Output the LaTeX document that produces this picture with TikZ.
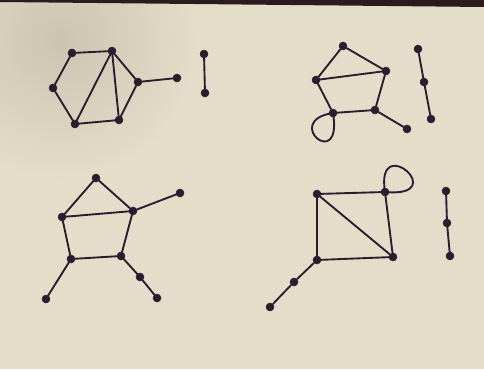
\documentclass[tikz,border=0pt]{standalone}
\usepackage{tikz}
\usetikzlibrary{positioning}
\definecolor{paper}{HTML}{E4DDCA}
\definecolor{paperdark}{HTML}{CBC4B1}
\definecolor{ink}{HTML}{2A1E2E}
\definecolor{edgeband}{HTML}{2B1B1C}
\begin{document}
\begin{tikzpicture}[x=0.03cm, y=-0.03cm,
    dot/.style={circle, fill=ink, draw=ink, inner sep=0pt, minimum size=0.24cm},
    edge/.style={draw=ink, line width=1.6pt, line cap=round}]
    % χαρτί
    \useasboundingbox (0,0) rectangle (484,369);
    \clip (0,0) rectangle (484,369);
    \fill[paper] (0,0) rectangle (484,369);
    \shade[inner color=paperdark, outer color=paper] (60,40) circle (140);
    \fill[edgeband] (0,0) -- (484,0) -- (484,7) -- (0,2) -- cycle;

    % Γράφημα 1
    \node[dot] (a1) at (72,53) {};
    \node[dot] (a2) at (112,51) {};
    \node[dot] (a3) at (53,88) {};
    \node[dot] (a4) at (138,82) {};
    \node[dot] (a5) at (177,78) {};
    \node[dot] (a6) at (75,124) {};
    \node[dot] (a7) at (119,120) {};
    \node[dot] (a8) at (204,54) {};
    \node[dot] (a9) at (205,93) {};
    \draw[edge] (a1) -- (a2);
    \draw[edge] (a1) -- (a3);
    \draw[edge] (a3) -- (a6);
    \draw[edge] (a6) -- (a7);
    \draw[edge] (a6) -- (a2);
    \draw[edge] (a2) -- (a7);
    \draw[edge] (a2) -- (a4);
    \draw[edge] (a4) -- (a7);
    \draw[edge] (a4) -- (a5);
    \draw[edge] (a8) -- (a9);

    % Γράφημα 2
    \node[dot] (b1) at (343,46) {};
    \node[dot] (b2) at (386,71) {};
    \node[dot] (b3) at (316,80) {};
    \node[dot] (b4) at (333,113) {};
    \node[dot] (b5) at (375,110) {};
    \node[dot] (b6) at (407,129) {};
    \node[dot] (b7) at (418,49) {};
    \node[dot] (b8) at (424,82) {};
    \node[dot] (b9) at (431,119) {};
    \draw[edge] (b1) -- (b2);
    \draw[edge] (b1) -- (b3);
    \draw[edge] (b3) -- (b2);
    \draw[edge] (b3) -- (b4);
    \draw[edge] (b4) -- (b5);
    \draw[edge] (b5) -- (b2);
    \draw[edge] (b5) -- (b6);
    \draw[edge] (b4.center) .. controls +(-52,8) and +(10,60) .. (b4.center); % βρόχος
    \draw[edge] (b7) -- (b8);
    \draw[edge] (b8) -- (b9);

    % Γράφημα 3
    \node[dot] (c1) at (96,178) {};
    \node[dot] (c2) at (62,217) {};
    \node[dot] (c3) at (133,211) {};
    \node[dot] (c4) at (180,193) {};
    \node[dot] (c5) at (71,259) {};
    \node[dot] (c6) at (121,256) {};
    \node[dot] (c7) at (140,277) {};
    \node[dot] (c8) at (157,298) {};
    \node[dot] (c9) at (46,299) {};
    \draw[edge] (c1) -- (c2);
    \draw[edge] (c1) -- (c3);
    \draw[edge] (c2) -- (c3);
    \draw[edge] (c3) -- (c4);
    \draw[edge] (c2) -- (c5);
    \draw[edge] (c5) -- (c6);
    \draw[edge] (c6) -- (c3);
    \draw[edge] (c6) -- (c7);
    \draw[edge] (c7) -- (c8);
    \draw[edge] (c5) -- (c9);

    % Γράφημα 4
    \node[dot] (d1) at (317,194) {};
    \node[dot] (d2) at (385,192) {};
    \node[dot] (d3) at (393,257) {};
    \node[dot] (d4) at (317,260) {};
    \node[dot] (d5) at (294,282) {};
    \node[dot] (d6) at (270,307) {};
    \node[dot] (d7) at (446,191) {};
    \node[dot] (d8) at (447,223) {};
    \node[dot] (d9) at (450,256) {};
    \draw[edge] (d1) -- (d2);
    \draw[edge] (d2) -- (d3);
    \draw[edge] (d3) -- (d4);
    \draw[edge] (d4) -- (d1);
    \draw[edge] (d1) -- (d3);
    \draw[edge] (d4) -- (d5);
    \draw[edge] (d5) -- (d6);
    \draw[edge] (d2.center) .. controls +(-10,-62) and +(68,6) .. (d2.center); % βρόχος
    \draw[edge] (d7) -- (d8);
    \draw[edge] (d8) -- (d9);
\end{tikzpicture}
\end{document}
